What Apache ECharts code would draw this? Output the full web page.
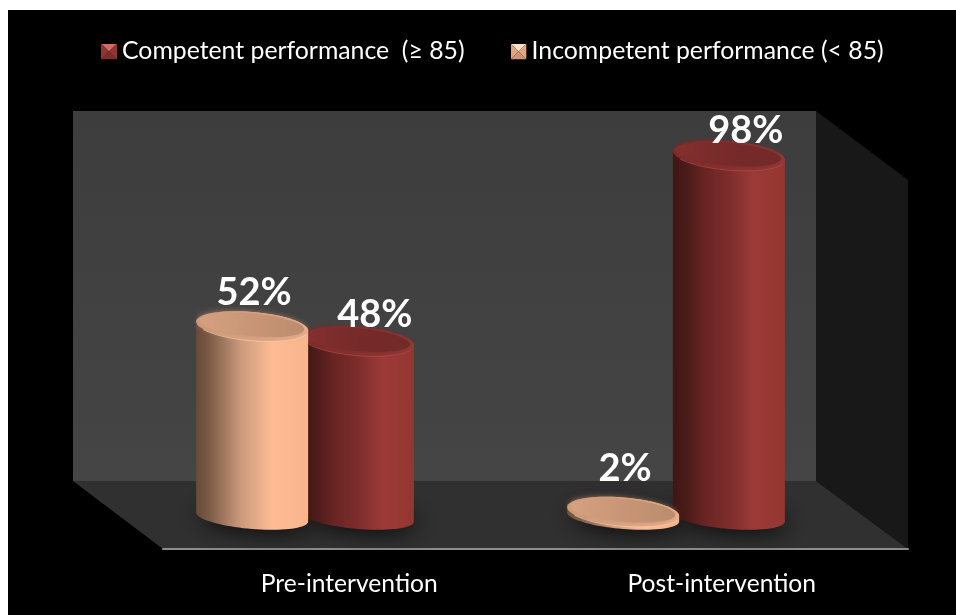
<!DOCTYPE html>
<html><head><meta charset="utf-8">
<style>html,body{margin:0;padding:0;background:#fff}#c{width:956px;height:615px}</style>
<script src="https://cdn.jsdelivr.net/npm/echarts@6/dist/echarts.min.js"></script>
</head><body><div id="c"></div>
<script>
const categories = ['Pre-intervention', 'Post-intervention'];
const competent = [48, 98];
const incompetent = [52, 2];
const competentName = 'Competent performance  (\u2265 85)';
const incompetentName = 'Incompetent performance (< 85)';

const FONT = 'Lato, "Open Sans", sans-serif';
const BODY_W = 0.302, OFFSET = 0.1425;   // fractions of a category band
const RED = {
  body: [[0,'#3d1614'],[0.12,'#4a1b19'],[0.3,'#6a2523'],[0.5,'#7c2d2b'],[0.72,'#9c3a38'],[1,'#94362f']],
  rim: 'rgba(190,80,76,0.7)', top: [[0,'#84302e'],[0.5,'#762a29'],[1,'#722a28']],
  edge: [[0,'#7d2c2a'],[0.5,'#8a3230'],[1,'#9a3a37']], labelDx: 17, labelDy: [-26,-25]
};
const PALE = {
  body: [[0,'#664a38'],[0.12,'#7d5c47'],[0.4,'#cc9a7c'],[0.68,'#ffbc94'],[1,'#f7b48d']],
  rim: 'rgba(255,210,180,0.7)', top: [[0,'#d5a180'],[0.5,'#c89676'],[1,'#bb8c6e']],
  edge: [[0,'#cc9a7a'],[0.5,'#dda685'],[1,'#eeb28e']], labelDx: 2, labelDy: [-33,-43]
};

function ell(cx, cy, rx, ry, tilt, from, to, n) {
  const p = [];
  for (let i = 0; i <= n; i++) {
    const t = from + (to - from) * i / n;
    p.push([cx + rx * Math.cos(t), cy + ry * Math.sin(t) + tilt * Math.cos(t)]);
  }
  return p;
}
function lin(stops) {
  return {type:'linear', x:0, y:0, x2:1, y2:0,
    colorStops: stops.map(s => ({offset:s[0], color:s[1]}))};
}
function cylinder(look, side, z) {
  return function (params, api) {
    const idx = api.value(0), val = api.value(1);
    const top = api.coord([idx, val]), base = api.coord([idx, 0]);
    const band = api.size([1, 0])[0];
    const cx = top[0] + side * OFFSET * band, rx = BODY_W * band / 2;
    const by = base[1] - 2, ty = top[1];
    const tilt = 4.5, ryTop = 14.2, ryBase = 12;
    const outline = ell(cx, ty, rx, ryTop, tilt, Math.PI, 2 * Math.PI, 30)
      .concat(ell(cx, by, rx, ryBase, tilt, 0, Math.PI, 40));
    return {type:'group', children:[
      {type:'polygon', z2:1, silent:true,
       shape:{points: ell(cx, by - 1, rx - 1, ryBase - 1, tilt, 0, 2 * Math.PI, 60)},
       style:{fill:'#1a1a1a', shadowBlur:24, shadowOffsetX:3, shadowOffsetY:3, shadowColor:'rgba(0,0,0,0.95)'}},
      {type:'polygon', z2:z, shape:{points: outline}, style:{fill: lin(look.body)}},
      {type:'polygon', z2:z + 1, shape:{points: ell(cx, ty, rx, ryTop, tilt, 0, 2 * Math.PI, 60)},
       style:{fill: lin(look.edge)}},
      {type:'polyline', z2:z + 2, shape:{points: ell(cx, ty + 0.6, rx - 0.5, ryTop, tilt, 0.25, Math.PI - 0.5, 30)},
       style:{fill:'none', stroke: look.rim, lineWidth: 1}},
      {type:'polygon', z2:z + 3, shape:{points: ell(cx - 0.5, ty - 1.2, rx - 3.5, ryTop - 2.8, tilt, 0, 2 * Math.PI, 60)},
       style:{fill: lin(look.top), shadowBlur:7, shadowColor: look.top[1][1]}},
      {type:'text', z2:100, silent:true,
       x: cx + look.labelDx, y: ty + look.labelDy[params.dataIndex],
       style:{text: val + '%', fill:'#fff', font:'bold 38px ' + FONT, align:'center', verticalAlign:'middle'}}
    ]};
  };
}
function bevelIcon(c1, c2, c3, c4) {
  const svg = "<svg xmlns='http://www.w3.org/2000/svg' width='32' height='32'>" +
    "<polygon points='0,0 32,0 16,16' fill='" + c1 + "'/>" +
    "<polygon points='0,0 16,16 0,32' fill='" + c2 + "'/>" +
    "<polygon points='32,0 16,16 32,32' fill='" + c3 + "'/>" +
    "<polygon points='0,32 16,16 32,32' fill='" + c4 + "'/></svg>";
  return 'image://data:image/svg+xml;charset=utf-8,' + encodeURIComponent(svg);
}

const chart = echarts.init(document.getElementById('c'), null, {renderer:'canvas'});
chart.setOption({
  animation:false,
  backgroundColor:'#fff',
  textStyle:{fontFamily:FONT},
  legend:{
    left:101, top:39, padding:0, itemWidth:16, itemHeight:16, itemGap:46,
    textStyle:{color:'#fff', fontSize:24.8, fontFamily:FONT},
    data:[
      {name:competentName, icon:bevelIcon('#d36a66','#8f3634','#8f3634','#7e2f2d')},
      {name:incompetentName, icon:bevelIcon('#ffe0c6','#e0a683','#e0a683','#cf9675')}
    ]
  },
  grid:[
    {left:119.5, right:94.5, top:148, bottom:96},
    {left:163, right:48, top:148, bottom:66}
  ],
  xAxis:[
    {type:'category', gridIndex:0, data:categories, show:false},
    {type:'category', gridIndex:1, data:categories,
     axisTick:{show:false}, axisLine:{lineStyle:{color:'#8c8c8c', width:2}},
     axisLabel:{color:'#fff', fontSize:24.6, margin:23, fontFamily:FONT}}
  ],
  yAxis:[
    {type:'value', gridIndex:0, min:0, max:100, show:false},
    {type:'value', gridIndex:1, min:0, max:100, show:false}
  ],
  graphic:{elements:[
    {type:'rect', z:-5, silent:true, shape:{x:8,y:10,width:948,height:605}, style:{fill:'#000'}},
    {type:'polygon', z:-4, silent:true, shape:{points:[[73,111],[816,111],[816,481],[73,481]]},
     style:{fill:{type:'linear',x:0,y:0,x2:0,y2:1,colorStops:[{offset:0,color:'#3d3d3d'},{offset:1,color:'#454545'}]}}},
    {type:'polygon', z:-4, silent:true, shape:{points:[[816,111],[908,180],[908,549],[816,481]]}, style:{fill:'#181818'}},
    {type:'polygon', z:-4, silent:true, shape:{points:[[73,481],[816,481],[908,549],[163,549]]}, style:{fill:'#303030'}}
  ]},
  series:[
    {name:competentName, type:'custom', xAxisIndex:0, yAxisIndex:0, clip:false,
     itemStyle:{color:'#9e3a38'}, renderItem:cylinder(RED, 1, 10),
     encode:{x:0,y:1}, data:competent.map((v,i)=>[i,v])},
    {name:incompetentName, type:'custom', xAxisIndex:0, yAxisIndex:0, clip:false,
     itemStyle:{color:'#ffbc94'}, renderItem:cylinder(PALE, -1, 20),
     encode:{x:0,y:1}, data:incompetent.map((v,i)=>[i,v])}
  ]
});
</script></body></html>
